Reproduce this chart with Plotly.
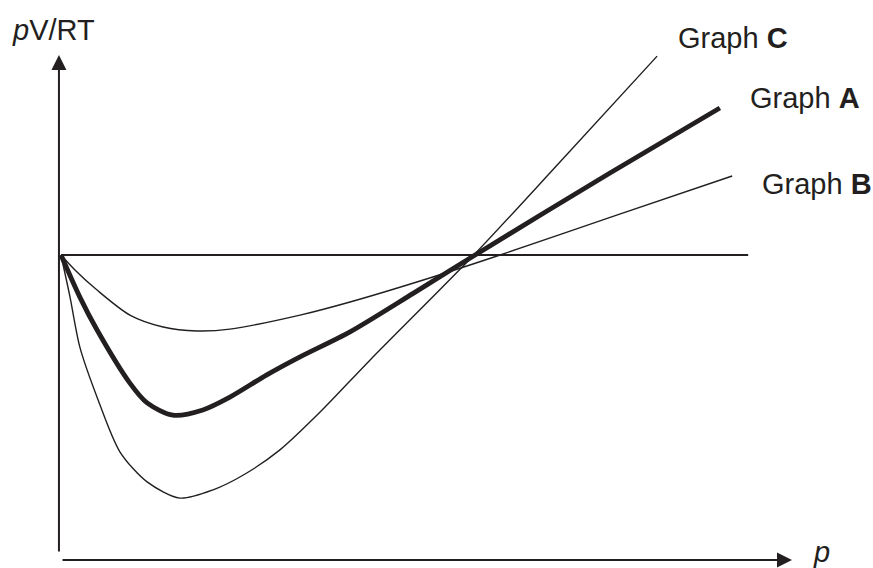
import plotly.graph_objects as go

# ── Data (p in arbitrary units, z = pV/RT) ─────────────────────────────
p_A = [0, 0.46, 0.88, 1.68, 2.10, 2.73, 3.46, 4.12, 5.02, 5.83, 7.05, 8.60, 10.10, 13.39, 16.07]
z_A = [1.0, 0.862, 0.754, 0.580, 0.515, 0.475, 0.492, 0.534, 0.607, 0.666, 0.748, 0.875, 1.0, 1.269, 1.482]

p_B = [0, 0.34, 0.88, 1.68, 2.49, 3.32, 4.12, 5.83, 7.05, 9.07, 10.71, 13.50, 16.37]
z_B = [1.0, 0.951, 0.885, 0.803, 0.764, 0.751, 0.757, 0.803, 0.846, 0.928, 1.0, 1.128, 1.259]

p_C = [0, 0.22, 0.46, 0.88, 1.44, 2.10, 2.90, 3.71, 4.49, 5.34, 6.32, 7.54, 10.07, 12.17, 14.54]
z_C = [1.0, 0.862, 0.698, 0.534, 0.354, 0.256, 0.203, 0.230, 0.282, 0.361, 0.485, 0.656, 1.0, 1.305, 1.652]

ideal_p = [0, 16.76]
ideal_z = [1.0, 1.0]

INK = "#231f20"
FONT = "Liberation Sans, Arial, sans-serif"

fig = go.Figure()

fig.add_trace(go.Scatter(x=ideal_p, y=ideal_z, mode="lines",
                         line=dict(color=INK, width=1.8), hoverinfo="none"))
fig.add_trace(go.Scatter(x=p_B, y=z_B, mode="lines",
                         line=dict(color=INK, width=1.4, shape="spline", smoothing=0.8),
                         name="Graph B"))
fig.add_trace(go.Scatter(x=p_C, y=z_C, mode="lines",
                         line=dict(color=INK, width=1.4, shape="spline", smoothing=0.8),
                         name="Graph C"))
fig.add_trace(go.Scatter(x=p_A, y=z_A, mode="lines",
                         line=dict(color=INK, width=4.8, shape="spline", smoothing=0.8),
                         name="Graph A"))

# ── Axes drawn as arrows ───────────────────────────────────────────────
fig.add_annotation(x=-0.05, y=1.656, ax=-0.05, ay=0.023, xref="x", yref="y",
                   axref="x", ayref="y", text="", showarrow=True,
                   arrowhead=2, arrowsize=1.5, arrowwidth=2, arrowcolor=INK)
fig.add_annotation(x=17.83, y=0.0, ax=0.0, ay=0.0, xref="x", yref="y",
                   axref="x", ayref="y", text="", showarrow=True,
                   arrowhead=2, arrowsize=1.5, arrowwidth=2, arrowcolor=INK)

# ── Labels ─────────────────────────────────────────────────────────────
labels = [
    ("<i>p</i>V/RT", 10, 30),
    ("Graph <b>C</b>", 676, 38),
    ("Graph <b>A</b>", 748, 98),
    ("Graph <b>B</b>", 760, 184),
    ("<i>p</i>", 811, 552),
]
for txt, px, py in labels:
    fig.add_annotation(x=px / 873, y=1 - py / 568, xref="paper", yref="paper",
                       text=txt, showarrow=False, xanchor="left", yanchor="middle",
                       font=dict(size=29, color=INK, family=FONT))

fig.update_layout(
    width=873,
    height=568,
    margin=dict(l=0, r=0, t=0, b=0),
    paper_bgcolor="white",
    plot_bgcolor="white",
    showlegend=False,
    xaxis=dict(visible=False, range=[-61 / 41, 812 / 41]),
    yaxis=dict(visible=False, range=[-8 / 305, 560 / 305]),
)

fig.write_html("out.html", config=dict(displayModeBar=False),
               post_script="document.body.style.margin='0';")
